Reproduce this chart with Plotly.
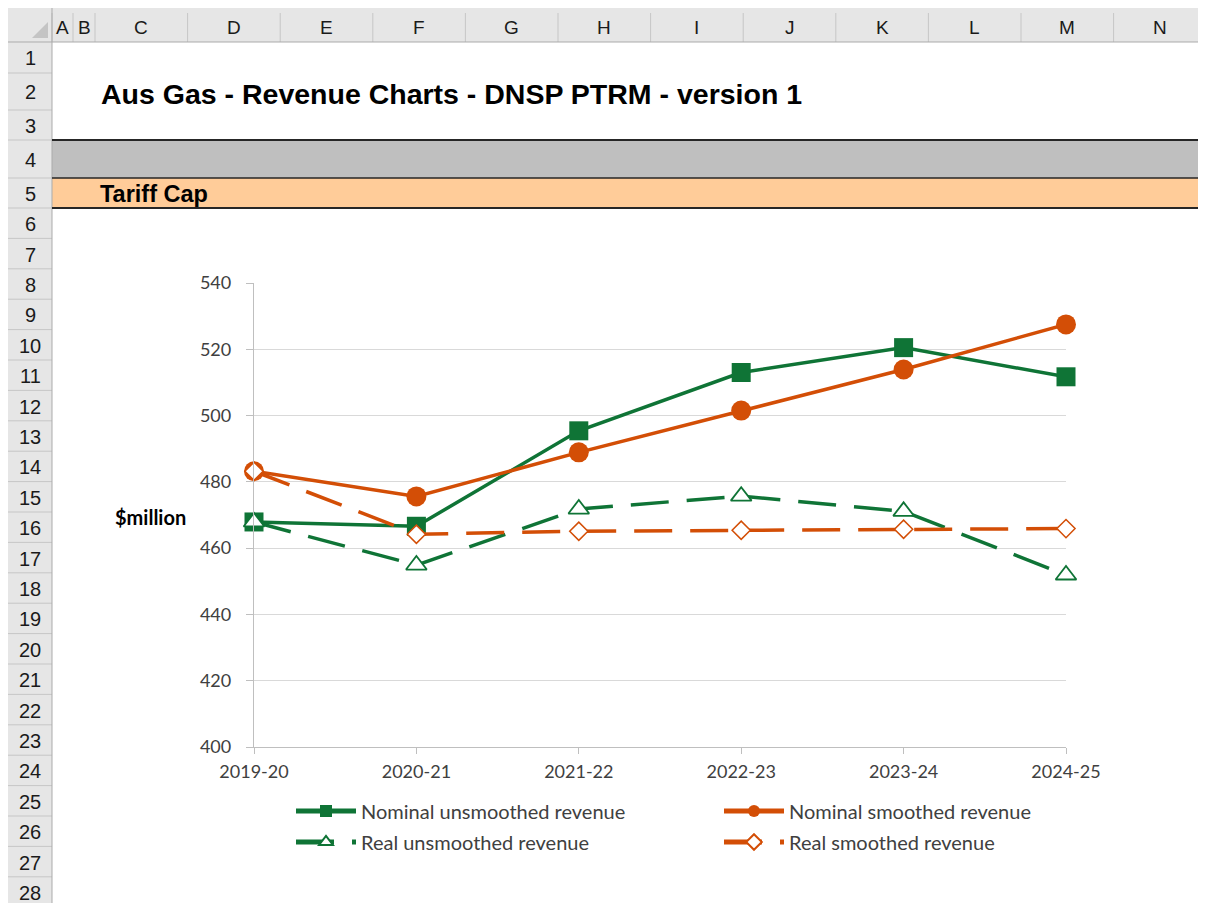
import plotly.graph_objects as go

# ---------------- data ----------------
categories = ["2019-20", "2020-21", "2021-22", "2022-23", "2023-24", "2024-25"]
nominal_unsmoothed = [467.9, 466.6, 495.4, 513.0, 520.5, 511.7]
nominal_smoothed = [483.2, 475.6, 488.9, 501.5, 513.9, 527.5]
real_unsmoothed = [467.9, 454.9, 471.8, 475.7, 471.1, 451.9]
real_smoothed = [483.2, 464.2, 465.1, 465.4, 465.7, 465.9]
y_ticks = [400, 420, 440, 460, 480, 500, 520, 540]
col_letters = ["A", "B", "C", "D", "E", "F", "G", "H", "I", "J", "K", "L", "M", "N"]
row_numbers = list(range(1, 29))
title_text = "Aus Gas - Revenue Charts - DNSP PTRM - version 1"
section_text = "Tariff Cap"
y_title = "$million"

# ---------------- geometry (page pixels; the page body has an 8px margin) ----------------
OFF = 8
W, H = 1206 - OFF, 903 - OFF
PL, PR, PT, PB = 254, 1066, 283, 747


def fx(x):
    return (x - PL) / (PR - PL)


def fy(y):
    return (PB - y) / (PB - PT)


GREEN = "#0F7436"
ORANGE = "#D34E06"
SHEET_FONT = "Liberation Sans, Arial, sans-serif"
CHART_FONT = "Lato, Liberation Sans, sans-serif"

fig = go.Figure()
fig.add_trace(go.Scatter(
    x=categories, y=nominal_unsmoothed, name="Nominal unsmoothed revenue",
    mode="lines+markers", line=dict(color=GREEN, width=3.5),
    marker=dict(symbol="square", size=19, color=GREEN), cliponaxis=False,
    legend="legend"))
fig.add_trace(go.Scatter(
    x=categories, y=nominal_smoothed, name="Nominal smoothed revenue",
    mode="lines+markers", line=dict(color=ORANGE, width=3.5),
    marker=dict(symbol="circle", size=20, color=ORANGE), cliponaxis=False,
    legend="legend2"))
fig.add_trace(go.Scatter(
    x=categories, y=real_unsmoothed, name="Real unsmoothed revenue",
    mode="lines+markers", line=dict(color=GREEN, width=3.5, dash="38px,18px"),
    marker=dict(symbol="triangle-up", size=18, color="white",
                line=dict(color=GREEN, width=1.8)), cliponaxis=False,
    legend="legend3"))
fig.add_trace(go.Scatter(
    x=categories, y=real_smoothed, name="Real smoothed revenue",
    mode="lines+markers", line=dict(color=ORANGE, width=3.5, dash="38px,18px"),
    marker=dict(symbol="diamond", size=14, color="white",
                line=dict(color=ORANGE, width=1.5)), cliponaxis=False,
    legend="legend4"))

shapes = []
annotations = []


def rect(x0, y0, x1, y1, fill):
    shapes.append(dict(type="rect", xref="paper", yref="paper",
                       x0=fx(x0), x1=fx(x1), y0=fy(y1), y1=fy(y0),
                       fillcolor=fill, line=dict(width=0), layer="below"))


def line(x0, y0, x1, y1, color, lw):
    shapes.append(dict(type="line", xref="paper", yref="paper",
                       x0=fx(x0), x1=fx(x1), y0=fy(y0), y1=fy(y1),
                       line=dict(color=color, width=lw), layer="above"))


def text(x, y, s, size, bold=False, anchor="center", color="#000000", font=SHEET_FONT):
    annotations.append(dict(xref="paper", yref="paper", x=fx(x), y=fy(y),
                            text=("<b>%s</b>" % s) if bold else s, showarrow=False,
                            xanchor=anchor, yanchor="middle",
                            font=dict(family=font, size=size, color=color)))


# ---------------- spreadsheet frame ----------------
HDR_TOP, HDR_BOT = 8, 42
ROWCOL_L, ROWCOL_R = 8, 52
row_tops = [42, 73, 110, 140, 178, 208]
while len(row_tops) < len(row_numbers) + 1:
    row_tops.append(208 + (len(row_tops) - 5) * 30.4)
col_edges = [52, 73, 95]
while len(col_edges) < len(col_letters) + 1:
    col_edges.append(95 + (len(col_edges) - 2) * 92.6)

rect(ROWCOL_L, HDR_TOP, 1206, HDR_BOT, "#E6E6E6")
rect(ROWCOL_L, HDR_BOT, ROWCOL_R, 903, "#E6E6E6")
rect(ROWCOL_R, row_tops[3], 1206, row_tops[4], "#BFBFBF")
rect(ROWCOL_R, row_tops[4], 1206, row_tops[5], "#FFCC99")

for xe in col_edges:
    line(xe, HDR_TOP + 5, xe, HDR_BOT, "#C6C6C6", 1)
line(ROWCOL_L, HDR_BOT, 1206, HDR_BOT, "#ABABAB", 1)
for yt in row_tops[1:]:
    line(ROWCOL_L, yt, ROWCOL_R, yt, "#C6C6C6", 1)
line(ROWCOL_R, HDR_TOP, ROWCOL_R, 903, "#ABABAB", 1)
shapes.append(dict(type="path", xref="paper", yref="paper",
                   path="M %f %f L %f %f L %f %f Z" % (fx(48), fy(22), fx(48), fy(38), fx(32), fy(38)),
                   fillcolor="#C4C4C4", line=dict(width=0), layer="above"))
line(ROWCOL_R, row_tops[3], 1206, row_tops[3], "#262626", 2)
line(ROWCOL_R, row_tops[4], 1206, row_tops[4], "#262626", 1.5)
line(ROWCOL_R, row_tops[5], 1206, row_tops[5], "#262626", 2)

for i, c in enumerate(col_letters):
    text((col_edges[i] + col_edges[i + 1]) / 2, 27, c, 19, color="#1A1A1A")
for i, r in enumerate(row_numbers):
    text(30, (row_tops[i] + row_tops[i + 1]) / 2 + 1, str(r), 20, color="#1A1A1A")

text(99, 94, title_text, 28.5, bold=True, anchor="left")
text(98, 194, section_text, 23.5, bold=True, anchor="left")
text(150, 517, y_title, 20, bold=True, font=CHART_FONT)


def legend_at(xp, yp):
    return dict(orientation="h", xanchor="left", yanchor="middle", x=fx(xp), y=fy(yp),
                bgcolor="rgba(0,0,0,0)", itemwidth=60, itemsizing="constant",
                font=dict(family=CHART_FONT, size=20, color="#404040"))


fig.update_layout(
    width=W, height=H,
    margin=dict(l=PL - OFF, r=W - (PR - OFF), t=PT - OFF, b=H - (PB - OFF), pad=0),
    paper_bgcolor="white", plot_bgcolor="white",
    shapes=shapes, annotations=annotations,
    font=dict(family=CHART_FONT, size=18, color="#404040"),
    xaxis=dict(type="category", range=[0, 5], showgrid=False, showline=True,
               linecolor="#BFBFBF", linewidth=1.3, ticks="outside", ticklen=6,
               tickcolor="#BFBFBF", tickwidth=1.3, zeroline=False,
               tickfont=dict(family=CHART_FONT, size=18, color="#404040"),
               ticklabelstandoff=2),
    yaxis=dict(range=[400, 540], tickvals=y_ticks, showgrid=True, gridcolor="#D9D9D9",
               gridwidth=1.3, showline=True, linecolor="#BFBFBF", linewidth=1.3,
               ticks="outside", ticklen=7, tickcolor="#BFBFBF", tickwidth=1.3,
               zeroline=False, tickfont=dict(family=CHART_FONT, size=18, color="#404040"),
               ticklabelstandoff=11),
    legend=legend_at(291, 811),
    legend2=legend_at(719, 811),
    legend3=legend_at(291, 842),
    legend4=legend_at(719, 842),
    showlegend=True,
)

fig.write_html("out.html")
